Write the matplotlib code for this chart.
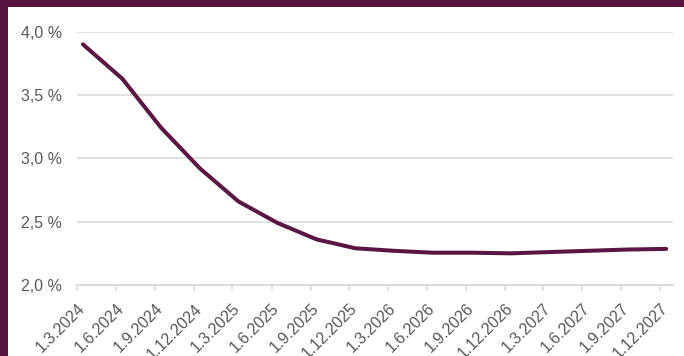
"""
Line chart of the projected rate, quarterly 2024-2027.
"""
import datetime as dt

import matplotlib
matplotlib.use('Agg')
import matplotlib.pyplot as plt
from matplotlib.patches import Rectangle
from matplotlib.ticker import FuncFormatter
from matplotlib.transforms import ScaledTranslation

# Data
tick_dates = [dt.date(2024 + (2 + 3 * i) // 12, (2 + 3 * i) % 12 + 1, 1) for i in range(16)]
tick_labels = [f'1.{d.month}.{d.year}' for d in tick_dates]
point_dates = [d.replace(day=15) for d in tick_dates]
rate = [3.90, 3.63, 3.24, 2.92, 2.66, 2.49, 2.36, 2.29,
        2.27, 2.255, 2.255, 2.25, 2.26, 2.27, 2.28, 2.285]

BORDER = '#57143F'
LINE = '#5A1642'
GRID = '#D9D9D9'
TEXT = '#595959'

plt.rcParams['font.family'] = ['Liberation Sans', 'DejaVu Sans']

fig = plt.figure(figsize=(6.84, 3.56), dpi=100)
ax = fig.add_axes([77 / 684, 1 - 285 / 356, 596 / 684, (285 - 31.7) / 356])

ax.plot(point_dates, rate, color=LINE, linewidth=2.9, solid_capstyle='round', zorder=3)

ax.set_xlim(dt.date(2024, 3, 1), dt.date(2027, 12, 31))
ax.set_ylim(2.0, 4.0)
ax.set_yticks([2.0, 2.5, 3.0, 3.5, 4.0])
ax.yaxis.set_major_formatter(FuncFormatter(lambda v, p: f'{v:.1f}'.replace('.', ',') + ' %'))
ax.grid(axis='y', color=GRID, linewidth=1.1)
ax.set_axisbelow(True)

ax.set_xticks(tick_dates)
ax.set_xticklabels(tick_labels, rotation=45, ha='right', rotation_mode='anchor')
shift = ScaledTranslation(6 / 100, 0, fig.dpi_scale_trans)
for lbl in ax.get_xticklabels():
    lbl.set_transform(lbl.get_transform() + shift)

for side in ['top', 'right', 'left']:
    ax.spines[side].set_visible(False)
ax.spines['bottom'].set_color(GRID)
ax.spines['bottom'].set_linewidth(1.3)

ax.tick_params(axis='y', length=0, pad=11, labelsize=11.5, labelcolor=TEXT)
ax.tick_params(axis='x', length=4, width=1.1, color=GRID, pad=7.5, labelsize=11.5, labelcolor=TEXT)

# purple frame on the top and left edges
fig.patches.append(Rectangle((0, 1 - 7 / 356), 1, 7 / 356, transform=fig.transFigure,
                             facecolor=BORDER, edgecolor='none'))
fig.patches.append(Rectangle((0, 0), 8 / 684, 1, transform=fig.transFigure,
                             facecolor=BORDER, edgecolor='none'))

fig.savefig('out.png', dpi=100)
plt.close(fig)
